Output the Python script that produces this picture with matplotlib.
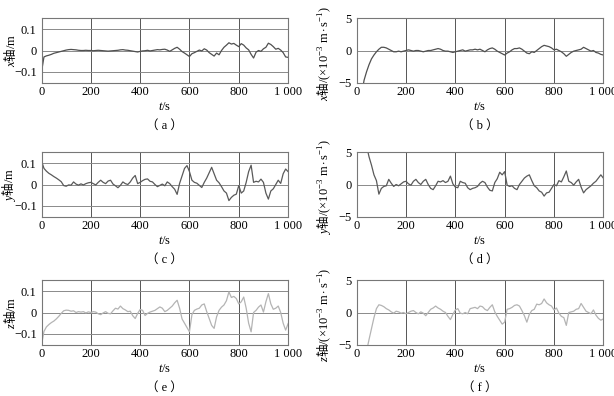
import matplotlib
matplotlib.use("Agg")
import matplotlib.pyplot as plt
import numpy as np

plt.rcParams['font.family'] = ['Liberation Serif', 'Noto Sans CJK SC']
plt.rcParams['mathtext.fontset'] = 'custom'
plt.rcParams['mathtext.rm'] = 'Liberation Serif'
plt.rcParams['mathtext.it'] = 'Liberation Serif:italic'
plt.rcParams['mathtext.sf'] = 'Liberation Serif'

# time axis, one value every 10 s
t = np.arange(0, 1001, 10)

# (a) x position / m
x_pos = [-0.100, -0.030, -0.025, -0.022, -0.018, -0.013, -0.010, -0.007, -0.004, -0.001,
         0.002, 0.004, 0.005, 0.004, 0.003, 0.001, 0.000, 0.000, 0.001, 0.000,
         0.000, -0.001, 0.000, 0.001, 0.000, -0.001, -0.002, -0.003, -0.002, -0.001,
         0.000, 0.001, 0.003, 0.004, 0.002, 0.001, -0.001, -0.003, -0.005, -0.007,
         -0.004, -0.002, -0.001, 0.001, -0.002, 0.000, 0.002, 0.004, 0.003, 0.005,
         0.006, 0.002, -0.004, 0.003, 0.010, 0.015, 0.006, -0.005, -0.012, -0.020,
         -0.028, -0.015, -0.010, -0.004, 0.002, -0.002, 0.008, 0.002, -0.010, -0.018,
         -0.026, -0.012, -0.020, 0.000, 0.015, 0.025, 0.036, 0.030, 0.033, 0.025,
         0.018, 0.032, 0.025, 0.012, 0.003, -0.018, -0.035, -0.008, 0.000, -0.004,
         0.008, 0.015, 0.034, 0.028, 0.018, 0.006, 0.010, 0.002, -0.010, -0.030,
         -0.032]

# (b) x velocity / 1e-3 m/s
x_vel = [-14.0, -10.0, -6.8, -4.6, -3.3, -2.2, -1.3, -0.7, -0.2, 0.2,
         0.5, 0.5, 0.4, 0.2, 0.0, -0.2, -0.2, -0.1, -0.2, -0.1,
         0.0, 0.1, 0.0, -0.1, 0.0, 0.0, -0.1, -0.2, -0.1, 0.0,
         0.0, 0.1, 0.2, 0.3, 0.2, 0.0, -0.1, -0.1, -0.2, -0.3,
         -0.2, -0.1, 0.0, 0.1, -0.1, 0.0, 0.1, 0.1, 0.2, 0.1,
         0.2, 0.0, -0.2, 0.1, 0.3, 0.4, 0.2, -0.1, -0.3, -0.5,
         -0.7, -0.4, -0.2, 0.1, 0.3, 0.3, 0.4, 0.2, -0.1, -0.4,
         -0.5, -0.2, -0.3, 0.0, 0.3, 0.6, 0.8, 0.7, 0.6, 0.4,
         0.1, 0.2, 0.0, -0.2, -0.5, -0.9, -0.6, -0.3, -0.1, 0.0,
         0.1, 0.2, 0.5, 0.3, 0.1, -0.1, 0.0, -0.3, -0.4, -0.6,
         -0.7]

# (c) y position / m
y_pos = [0.110, 0.075, 0.062, 0.052, 0.045, 0.037, 0.030, 0.022, 0.013, -0.005,
         -0.008, -0.002, -0.003, 0.012, 0.002, -0.003, 0.003, -0.002, 0.004, 0.008,
         0.010, 0.004, -0.002, 0.010, 0.020, 0.010, 0.004, 0.016, 0.020, 0.002,
         -0.006, -0.015, -0.004, 0.012, 0.004, 0.000, 0.012, 0.030, 0.042, 0.004,
         0.010, 0.018, 0.024, 0.026, 0.015, 0.012, 0.000, -0.010, -0.004, 0.002,
         -0.006, 0.012, 0.004, -0.010, -0.022, -0.046, 0.005, 0.040, 0.075, 0.088,
         0.060, 0.020, 0.010, 0.006, -0.004, -0.014, 0.010, 0.030, 0.055, 0.080,
         0.050, 0.020, 0.008, -0.010, -0.030, -0.040, -0.075, -0.060, -0.050, -0.045,
         -0.005, -0.040, -0.030, 0.010, 0.060, 0.090, 0.010, 0.015, 0.012, 0.025,
         0.010, -0.040, -0.068, -0.030, -0.020, 0.000, 0.020, 0.005, 0.050, 0.072,
         0.060]

# (d) y velocity / 1e-3 m/s
y_vel = [14.0, 12.0, 10.0, 8.0, 6.0, 4.3, 3.0, 1.5, 0.6, -1.5,
         -0.6, -0.3, -0.2, 0.8, 0.2, -0.3, 0.0, -0.2, 0.1, 0.4,
         0.5, 0.1, -0.1, 0.5, 0.8, 0.3, 0.0, 0.5, 0.8, 0.0,
         -0.6, -0.8, -0.2, 0.5, 0.4, 0.6, 0.3, 0.5, 1.3, 0.1,
         -0.4, -0.5, 0.5, 0.3, 0.2, -0.5, -0.8, -0.6, -0.5, -0.3,
         0.2, 0.5, 0.3, -0.4, -0.9, -1.0, 0.3, 0.9, 1.9, 1.5,
         2.0, -0.1, -0.3, -0.2, -0.6, -0.8, 0.0, 0.5, 1.0, 1.3,
         1.5, 0.6, -0.2, -0.5, -1.0, -1.2, -1.8, -1.3, -1.2, -0.6,
         0.0, -0.2, 0.6, 0.4, 1.2, 2.1, 0.5, 0.3, -0.1, 0.4,
         0.8, -0.4, -1.3, -0.8, -0.5, -0.2, 0.2, 0.5, 1.0, 1.5,
         1.0]

# (e) z position / m
z_pos = [-0.150, -0.088, -0.067, -0.056, -0.047, -0.040, -0.030, -0.018, -0.004, 0.008,
         0.011, 0.010, 0.006, 0.008, 0.000, 0.004, 0.002, 0.004, -0.002, 0.003,
         0.000, 0.004, 0.002, -0.006, -0.010, -0.002, 0.004, -0.004, -0.006, 0.008,
         0.020, 0.016, 0.030, 0.018, 0.012, 0.004, 0.006, -0.015, -0.028, -0.004,
         0.014, 0.010, -0.014, -0.004, 0.002, 0.006, 0.010, 0.018, 0.026, 0.020,
         0.004, 0.010, 0.020, 0.030, 0.045, 0.057, 0.020, -0.030, -0.050, -0.070,
         -0.090, -0.010, 0.010, 0.016, 0.020, 0.035, 0.040, 0.004, -0.028, -0.060,
         -0.074, -0.020, 0.010, 0.025, 0.035, 0.055, 0.096, 0.070, 0.075, 0.065,
         0.040, 0.050, 0.072, 0.020, -0.050, -0.090, 0.000, 0.010, 0.025, 0.035,
         0.002, 0.050, 0.088, 0.040, 0.015, 0.020, 0.030, 0.000, -0.050, -0.082,
         -0.052]

# (f) z velocity / 1e-3 m/s
z_vel = [-14.0, -12.0, -10.0, -8.0, -6.0, -4.2, -2.5, -0.8, 0.6, 1.2,
         1.1, 0.9, 0.6, 0.4, 0.1, -0.1, 0.2, 0.1, -0.1, 0.0,
         -0.2, 0.0, 0.2, 0.3, 0.0, -0.2, 0.1, -0.1, -0.5, 0.0,
         0.5, 0.7, 1.0, 0.7, 0.5, 0.2, 0.0, -0.6, -1.1, -0.3,
         0.4, 0.6, -0.1, -0.2, 0.0, -0.2, 0.6, 0.7, 0.8, 0.6,
         1.0, 0.9, 0.5, 0.3, 0.8, 1.2, 0.1, -0.6, -1.2, -1.8,
         -1.5, 0.5, 0.6, 0.8, 1.1, 1.2, 1.0, 0.3, -0.5, -1.5,
         -0.3, 0.3, 0.5, 1.3, 1.2, 1.4, 2.1, 1.5, 1.2, 1.0,
         0.4, 0.7, -0.1, -0.6, -0.8, -2.0, 0.0, 0.1, 0.2, 0.5,
         0.6, 1.4, 0.8, 0.2, 0.0, -0.2, 0.4, -0.4, -0.9, -1.2,
         -1.0]

x_ticks = [0, 200, 400, 600, 800, 1000]
x_tick_labels = ['0', '200', '400', '600', '800', '1 000']
pos_ticks = [-0.1, 0, 0.1]
pos_tick_labels = ['\u22120.1', '0', '0.1']
vel_ticks = [-5, 0, 5]
vel_tick_labels = ['\u22125', '0', '5']

panels = [
    # data, axis letter, caption, colour, kind
    (x_pos, 'x', 'a', '#505050', 'pos'),
    (x_vel, 'x', 'b', '#505050', 'vel'),
    (y_pos, 'y', 'c', '#5a5a5a', 'pos'),
    (y_vel, 'y', 'd', '#5a5a5a', 'vel'),
    (z_pos, 'z', 'e', '#b4b4b4', 'pos'),
    (z_vel, 'z', 'f', '#b4b4b4', 'vel'),
]

W, H = 614, 396
FS = 9
fig = plt.figure(figsize=(W / 100, H / 100), dpi=100)

# axes boxes in pixels: left, top, width, height
lefts = [41.5, 356.7]
tops = [18.3, 152.3, 280.3]
ax_w, ax_h = 246.6, 64.4

for i, (vals, letter, cap, col, kind) in enumerate(panels):
    row, colm = i // 2, i % 2
    l = lefts[colm]
    tp = tops[row]
    ax = fig.add_axes([l / W, 1 - (tp + ax_h) / H, ax_w / W, ax_h / H])
    ax.plot(t, vals, color=col, lw=0.9)
    ax.set_xlim(0, 1000)
    ax.set_xticks(x_ticks)
    ax.set_xticklabels(x_tick_labels)
    # the plain 轴 goes through the label's own font (CJK), the rest through mathtext
    if kind == 'pos':
        ax.set_ylim(-0.15, 0.15)
        ax.set_yticks(pos_ticks)
        ax.set_yticklabels(pos_tick_labels)
        ax.set_ylabel(r'$\mathit{' + letter + r'}$轴$\mathsf{/m}$',
                      fontsize=FS, fontfamily='Noto Sans CJK SC')
        ax.yaxis.set_label_coords(-0.095, 0.5)
    else:
        ax.set_ylim(-5, 5)
        ax.set_yticks(vel_ticks)
        ax.set_yticklabels(vel_tick_labels)
        ax.set_ylabel(r'$\mathit{' + letter + r'}$轴$\mathsf{/(\times10^{-3}\ m\cdot s^{-1})}$',
                      fontsize=FS, fontfamily='Noto Sans CJK SC')
        ax.yaxis.set_label_coords(-0.098, 0.46)
    ax.grid(axis='x', color='#555555', lw=0.7)
    ax.grid(axis='y', color='#8a8a8a', lw=0.7)
    ax.set_axisbelow(True)
    ax.tick_params(length=0, labelsize=FS)
    ax.tick_params(axis='x', pad=2.5)
    ax.tick_params(axis='y', pad=3.5)
    for s in ax.spines.values():
        s.set_color('#777777')
        s.set_linewidth(0.8)
    ax.set_xlabel(r'$\mathit{t}\mathsf{/s}$', fontsize=FS)
    ax.xaxis.set_label_coords(0.5, -0.28)
    ax.text(0.5, -43 / ax_h, '（ ' + cap + ' ）', transform=ax.transAxes,
            ha='center', va='center', fontsize=FS)

fig.savefig('out.png', dpi=100)
